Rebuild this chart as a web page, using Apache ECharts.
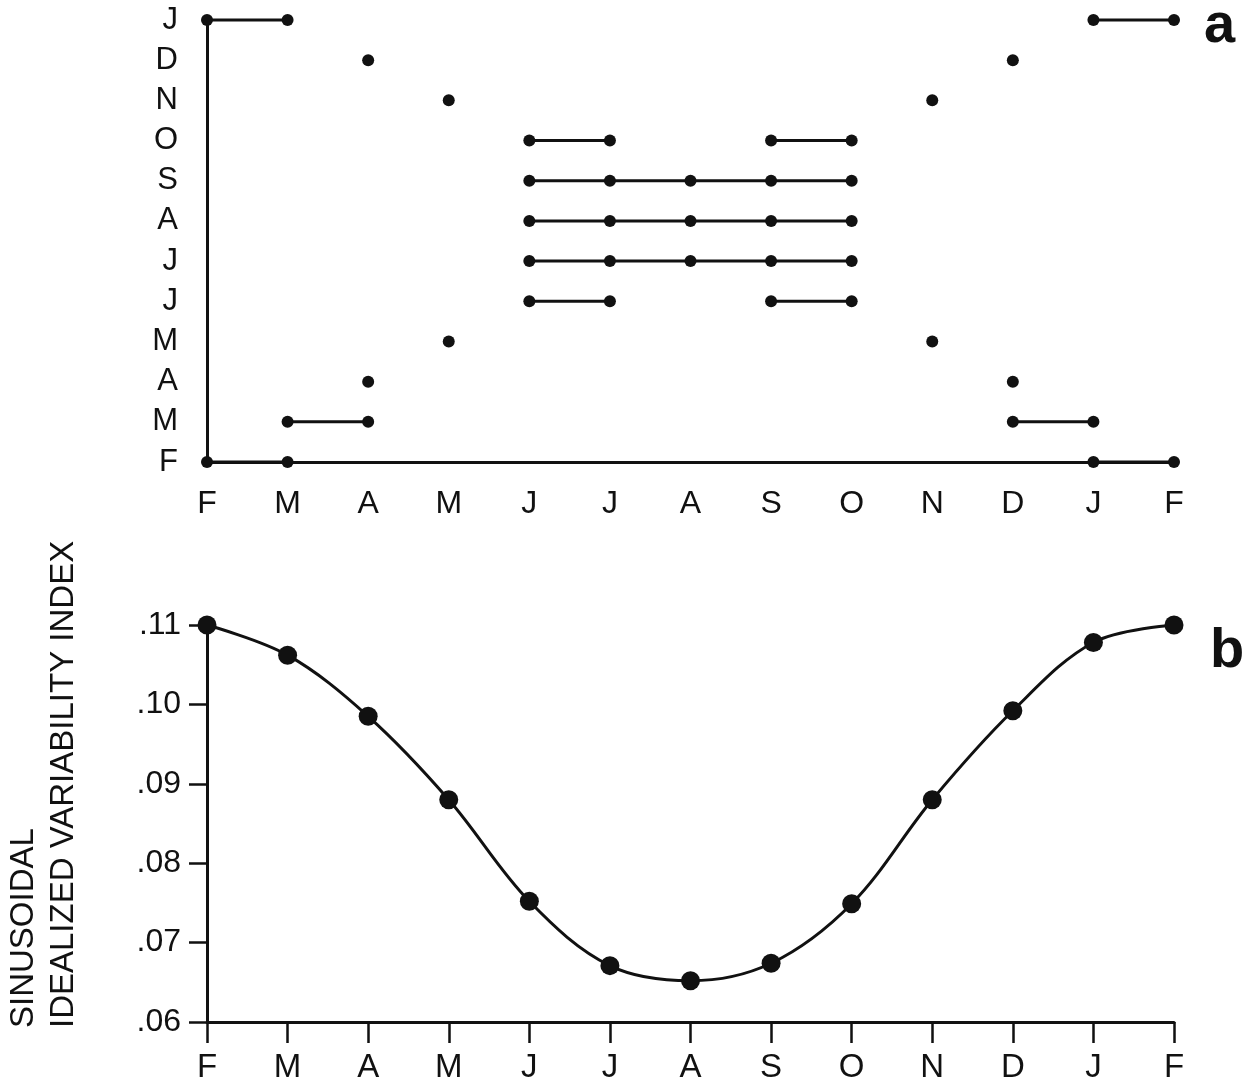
<!DOCTYPE html>
<html>
<head>
<meta charset="utf-8">
<script src="https://cdn.jsdelivr.net/npm/echarts@6/dist/echarts.min.js"></script>
<style>
  html, body { margin: 0; padding: 0; background: #fff; }
  #chart { width: 1254px; height: 1089px; }
</style>
</head>
<body>
<div id="chart"></div>
<script>
// panel a: months along the bottom and up the side
const colMonths = ['F', 'M', 'A', 'M', 'J', 'J', 'A', 'S', 'O', 'N', 'D', 'J', 'F'];
const rowMonths = ['F', 'M', 'A', 'M', 'J', 'J', 'A', 'S', 'O', 'N', 'D', 'J'];

// panel a runs: [row index, first column, last column]
const runsA = [
  [11, 0, 1], [11, 11, 12],
  [10, 2, 2], [10, 10, 10],
  [9, 3, 3], [9, 9, 9],
  [8, 4, 5], [8, 7, 8],
  [7, 4, 8],
  [6, 4, 8],
  [5, 4, 8],
  [4, 4, 5], [4, 7, 8],
  [3, 3, 3], [3, 9, 9],
  [2, 2, 2], [2, 10, 10],
  [1, 1, 2], [1, 10, 11],
  [0, 0, 1], [0, 11, 12]
];

// panel b: sinusoidal idealized variability index
const indexB = [0.110, 0.1062, 0.0985, 0.0880, 0.0752, 0.0671, 0.0652, 0.0674, 0.0749, 0.0880, 0.0992, 0.1078, 0.110];
const ticksB = [0.06, 0.07, 0.08, 0.09, 0.10, 0.11];

const ink = '#111';
const font = 'Liberation Sans';

const chart = echarts.init(document.getElementById('chart'));

const seriesA = runsA.map(([row, from, to]) => {
  const pts = [];
  for (let c = from; c <= to; c++) pts.push([c, row]);
  return {
    type: 'line',
    xAxisIndex: 0,
    yAxisIndex: 0,
    data: pts,
    symbol: 'circle',
    symbolSize: 12,
    clip: false,
    lineStyle: { color: ink, width: 3 },
    itemStyle: { color: ink }
  };
});

chart.setOption({
  animation: false,
  backgroundColor: '#fff',
  grid: [
    { left: 207, right: 80, top: 20, bottom: 627 },
    { left: 207, right: 80, top: 625, bottom: 67 }
  ],
  xAxis: [
    {
      type: 'category',
      gridIndex: 0,
      data: colMonths,
      boundaryGap: false,
      axisLine: { lineStyle: { color: ink, width: 3 } },
      axisTick: { alignWithLabel: true, length: 17, lineStyle: { color: ink, width: 2.5 } },
      axisLabel: { color: ink, fontFamily: font, fontSize: 32, margin: 26, interval: 0 },
      splitLine: { show: false }
    },
    {
      type: 'category',
      gridIndex: 1,
      data: colMonths,
      boundaryGap: false,
      axisLine: { lineStyle: { color: ink, width: 3 } },
      axisTick: { alignWithLabel: true, length: 21, lineStyle: { color: ink, width: 2.5 } },
      axisLabel: { color: ink, fontFamily: font, fontSize: 33, margin: 29, interval: 0 },
      splitLine: { show: false }
    }
  ],
  yAxis: [
    {
      type: 'category',
      gridIndex: 0,
      data: rowMonths,
      boundaryGap: false,
      axisLine: { lineStyle: { color: ink, width: 3 } },
      axisTick: { length: 18, lineStyle: { color: ink, width: 2.5 } },
      axisLabel: { color: ink, fontFamily: font, fontSize: 31, margin: 29, interval: 0 },
      splitLine: { show: false }
    },
    {
      type: 'value',
      gridIndex: 1,
      min: ticksB[0],
      max: ticksB[ticksB.length - 1],
      interval: 0.01,
      axisLine: { show: true, lineStyle: { color: ink, width: 3 } },
      axisTick: { show: true, length: 18, lineStyle: { color: ink, width: 2.5 } },
      axisLabel: {
        color: ink, fontFamily: font, fontSize: 32, margin: 26,
        formatter: v => v.toFixed(2).replace(/^0/, '')
      },
      splitLine: { show: false }
    }
  ],
  series: [
    ...seriesA,
    {
      type: 'line',
      xAxisIndex: 1,
      yAxisIndex: 1,
      data: indexB,
      smooth: 0.35,
      symbol: 'circle',
      symbolSize: 19,
      clip: false,
      lineStyle: { color: ink, width: 3 },
      itemStyle: { color: ink }
    }
  ],
  graphic: [
    {
      type: 'text',
      x: 4,
      y: 1028,
      rotation: Math.PI / 2,
      style: {
        text: 'SINUSOIDAL\nIDEALIZED VARIABILITY INDEX',
        fill: ink,
        fontFamily: font,
        fontSize: 33,
        lineHeight: 40,
        align: 'left',
        verticalAlign: 'top'
      }
    },
    {
      type: 'text',
      x: 1204,
      y: 27,
      style: { text: 'a', fill: ink, fontFamily: font, fontWeight: 'bold', fontSize: 56, align: 'left', verticalAlign: 'middle' }
    },
    {
      type: 'text',
      x: 1210,
      y: 652,
      style: { text: 'b', fill: ink, fontFamily: font, fontWeight: 'bold', fontSize: 56, align: 'left', verticalAlign: 'middle' }
    }
  ]
});
</script>
</body>
</html>
